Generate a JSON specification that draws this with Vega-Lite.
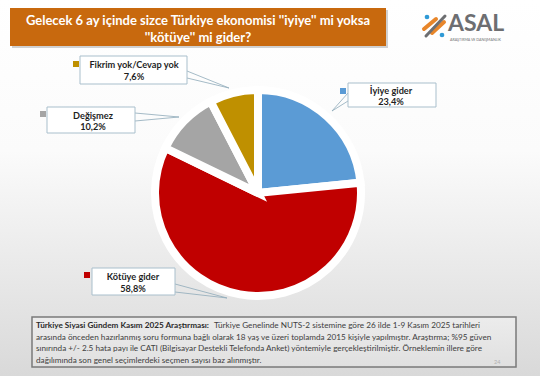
{
  "$schema": "https://vega.github.io/schema/vega-lite/v6.json",
  "width": 540,
  "height": 376,
  "autosize": "none",
  "padding": 0,
  "background": "#ffffff",
  "config": {
    "view": {"stroke": null},
    "axis": {"disable": true},
    "font": "Lato",
    "locale": {"number": {"decimal": ",", "thousands": ".", "grouping": [3], "currency": ["", " TL"]}}
  },
  "datasets": {
    "pie": [
      {"cat": "İyiye gider", "share": 0.234, "rank": 1},
      {"cat": "Kötüye gider", "share": 0.588, "rank": 2},
      {"cat": "Değişmez", "share": 0.102, "rank": 3},
      {"cat": "Fikrim yok/Cevap yok", "share": 0.076, "rank": 4}
    ]
  },
  "layer": [
    {
      "data": {"values": [{}]},
      "mark": {"type": "rect", "fill": {"gradient": "linear", "x1": 0, "y1": 0, "x2": 0, "y2": 1, "stops": [{"offset": 0, "color": "#ffffff"}, {"offset": 0.4, "color": "#fbfbfb"}, {"offset": 1, "color": "#d9d9d9"}]}},
      "encoding": {
        "x": {"datum": 0, "type": "quantitative", "scale": {"domain": [0, 540], "range": [0, 540], "nice": false, "zero": false}},
        "x2": {"datum": 540},
        "y": {"datum": 0, "type": "quantitative", "scale": {"domain": [0, 376], "range": [0, 376], "nice": false, "zero": false}},
        "y2": {"datum": 376}
      }
    },
    {
      "data": {"values": [{}]},
      "mark": {"type": "rect", "fill": "#9a9a9a", "opacity": 0.45},
      "encoding": {"x": {"datum": 12, "type": "quantitative"}, "x2": {"datum": 388}, "y": {"datum": 10, "type": "quantitative"}, "y2": {"datum": 48}}
    },
    {
      "data": {"values": [{}]},
      "mark": {"type": "rect", "fill": "#c8690e"},
      "encoding": {"x": {"datum": 10, "type": "quantitative"}, "x2": {"datum": 386}, "y": {"datum": 8, "type": "quantitative"}, "y2": {"datum": 46}}
    },
    {
      "data": {"values": [{}]},
      "mark": {"type": "text", "align": "center", "baseline": "middle", "lineHeight": 17, "fontSize": 13, "fontWeight": "bold", "color": "#ffffff"},
      "encoding": {
        "x": {"datum": 198, "type": "quantitative"},
        "y": {"datum": 20.5, "type": "quantitative"},
        "text": {"value": ["Gelecek 6 ay içinde sizce Türkiye ekonomisi ''iyiye'' mi yoksa", "''kötüye'' mi gider?"]}
      }
    },
    {
      "data": {"values": [{}]},
      "mark": {"type": "rule", "stroke": "#e8862a", "strokeWidth": 4, "strokeCap": "round"},
      "encoding": {"x": {"datum": 424, "type": "quantitative"}, "y": {"datum": 29, "type": "quantitative"}, "x2": {"datum": 436}, "y2": {"datum": 19}}
    },
    {
      "data": {"values": [{}]},
      "mark": {"type": "rule", "stroke": "#e8862a", "strokeWidth": 4, "strokeCap": "round"},
      "encoding": {"x": {"datum": 432, "type": "quantitative"}, "y": {"datum": 33, "type": "quantitative"}, "x2": {"datum": 444}, "y2": {"datum": 22}}
    },
    {
      "data": {"values": [{}]},
      "mark": {"type": "rule", "stroke": "#6d6e71", "strokeWidth": 3, "strokeCap": "round"},
      "encoding": {"x": {"datum": 426, "type": "quantitative"}, "y": {"datum": 36, "type": "quantitative"}, "x2": {"datum": 445}, "y2": {"datum": 16}}
    },
    {
      "data": {"values": [{}]},
      "mark": {"type": "point", "shape": "circle", "filled": true, "size": 22, "color": "#2f9ad6", "opacity": 1},
      "encoding": {"x": {"datum": 427, "type": "quantitative"}, "y": {"datum": 17, "type": "quantitative"}}
    },
    {
      "data": {"values": [{}]},
      "mark": {"type": "point", "shape": "circle", "filled": true, "size": 22, "color": "#2f9ad6", "opacity": 1},
      "encoding": {"x": {"datum": 442, "type": "quantitative"}, "y": {"datum": 35, "type": "quantitative"}}
    },
    {
      "data": {"values": [{}]},
      "mark": {"type": "text", "align": "left", "baseline": "middle", "fontSize": 23, "fontWeight": "bold", "color": "#6d6e71"},
      "encoding": {"x": {"datum": 448, "type": "quantitative"}, "y": {"datum": 24, "type": "quantitative"}, "text": {"value": "ASAL"}}
    },
    {
      "data": {"values": [{}]},
      "mark": {"type": "text", "align": "left", "baseline": "middle", "fontSize": 3.6, "color": "#6d6e71"},
      "encoding": {"x": {"datum": 450, "type": "quantitative"}, "y": {"datum": 39.5, "type": "quantitative"}, "text": {"value": "ARAŞTIRMA VE DANIŞMANLIK"}}
    },
    {
      "data": {"name": "pie"},
      "mark": {"type": "arc", "outerRadius": 103, "stroke": "#ffffff", "strokeWidth": 8},
      "encoding": {
        "x": {"datum": 258, "type": "quantitative"},
        "y": {"datum": 193, "type": "quantitative"},
        "theta": {"field": "share", "type": "quantitative", "stack": true},
        "order": {"field": "rank", "type": "quantitative"},
        "color": {"field": "cat", "type": "nominal", "legend": null, "scale": {"domain": ["İyiye gider", "Kötüye gider", "Değişmez", "Fikrim yok/Cevap yok"], "range": ["#5b9bd5", "#c00000", "#a5a5a5", "#bf9000"]}}
      }
    },
    {
      "data": {"name": "pie"},
      "transform": [{"filter": "datum.cat === 'Fikrim yok/Cevap yok'"}],
      "layer": [
        {"mark": {"type": "rule", "stroke": "#8eaab9", "strokeWidth": 0.8}, "encoding": {"x": {"datum": 187, "type": "quantitative"}, "y": {"datum": 71, "type": "quantitative"}, "x2": {"datum": 229}, "y2": {"datum": 88}}},
        {"mark": {"type": "rule", "stroke": "#8eaab9", "strokeWidth": 0.8}, "encoding": {"x": {"datum": 187, "type": "quantitative"}, "y": {"datum": 78, "type": "quantitative"}, "x2": {"datum": 229}, "y2": {"datum": 88}}},
        {"mark": {"type": "rect", "fill": "#ffffff", "stroke": "#a9bfcc", "strokeWidth": 1}, "encoding": {"x": {"datum": 80, "type": "quantitative"}, "x2": {"datum": 187}, "y": {"datum": 56, "type": "quantitative"}, "y2": {"datum": 84}}},
        {"mark": {"type": "square", "size": 36, "filled": true, "opacity": 1}, "encoding": {"x": {"datum": 76, "type": "quantitative"}, "y": {"datum": 64, "type": "quantitative"}, "color": {"field": "cat", "type": "nominal", "legend": null}}},
        {"mark": {"type": "text", "align": "center", "baseline": "middle", "fontSize": 9.2, "fontWeight": "bold", "color": "#1f1f1f"}, "encoding": {"x": {"datum": 134, "type": "quantitative"}, "y": {"datum": 65, "type": "quantitative"}, "text": {"field": "cat"}}},
        {"mark": {"type": "text", "align": "center", "baseline": "middle", "fontSize": 9.2, "fontWeight": "bold", "color": "#1f1f1f"}, "encoding": {"x": {"datum": 134, "type": "quantitative"}, "y": {"datum": 77, "type": "quantitative"}, "text": {"field": "share", "type": "quantitative", "format": ".1%"}}}
      ]
    },
    {
      "data": {"name": "pie"},
      "transform": [{"filter": "datum.cat === 'Değişmez'"}],
      "layer": [
        {"mark": {"type": "rule", "stroke": "#8eaab9", "strokeWidth": 0.8}, "encoding": {"x": {"datum": 135, "type": "quantitative"}, "y": {"datum": 113, "type": "quantitative"}, "x2": {"datum": 179}, "y2": {"datum": 117}}},
        {"mark": {"type": "rule", "stroke": "#8eaab9", "strokeWidth": 0.8}, "encoding": {"x": {"datum": 135, "type": "quantitative"}, "y": {"datum": 121, "type": "quantitative"}, "x2": {"datum": 179}, "y2": {"datum": 117}}},
        {"mark": {"type": "rect", "fill": "#ffffff", "stroke": "#a9bfcc", "strokeWidth": 1}, "encoding": {"x": {"datum": 47, "type": "quantitative"}, "x2": {"datum": 135}, "y": {"datum": 107, "type": "quantitative"}, "y2": {"datum": 133}}},
        {"mark": {"type": "square", "size": 36, "filled": true, "opacity": 1}, "encoding": {"x": {"datum": 43, "type": "quantitative"}, "y": {"datum": 114, "type": "quantitative"}, "color": {"field": "cat", "type": "nominal", "legend": null}}},
        {"mark": {"type": "text", "align": "center", "baseline": "middle", "fontSize": 9.2, "fontWeight": "bold", "color": "#1f1f1f"}, "encoding": {"x": {"datum": 93, "type": "quantitative"}, "y": {"datum": 116, "type": "quantitative"}, "text": {"field": "cat"}}},
        {"mark": {"type": "text", "align": "center", "baseline": "middle", "fontSize": 9.2, "fontWeight": "bold", "color": "#1f1f1f"}, "encoding": {"x": {"datum": 93, "type": "quantitative"}, "y": {"datum": 127, "type": "quantitative"}, "text": {"field": "share", "type": "quantitative", "format": ".1%"}}}
      ]
    },
    {
      "data": {"name": "pie"},
      "transform": [{"filter": "datum.cat === 'İyiye gider'"}],
      "layer": [
        {"mark": {"type": "rule", "stroke": "#8eaab9", "strokeWidth": 0.8}, "encoding": {"x": {"datum": 348, "type": "quantitative"}, "y": {"datum": 93, "type": "quantitative"}, "x2": {"datum": 332}, "y2": {"datum": 111}}},
        {"mark": {"type": "rule", "stroke": "#8eaab9", "strokeWidth": 0.8}, "encoding": {"x": {"datum": 348, "type": "quantitative"}, "y": {"datum": 101, "type": "quantitative"}, "x2": {"datum": 332}, "y2": {"datum": 111}}},
        {"mark": {"type": "rect", "fill": "#ffffff", "stroke": "#a9bfcc", "strokeWidth": 1}, "encoding": {"x": {"datum": 348, "type": "quantitative"}, "x2": {"datum": 436}, "y": {"datum": 83, "type": "quantitative"}, "y2": {"datum": 107}}},
        {"mark": {"type": "square", "size": 36, "filled": true, "opacity": 1}, "encoding": {"x": {"datum": 343, "type": "quantitative"}, "y": {"datum": 91, "type": "quantitative"}, "color": {"field": "cat", "type": "nominal", "legend": null}}},
        {"mark": {"type": "text", "align": "center", "baseline": "middle", "fontSize": 9.2, "fontWeight": "bold", "color": "#1f1f1f"}, "encoding": {"x": {"datum": 391, "type": "quantitative"}, "y": {"datum": 91, "type": "quantitative"}, "text": {"field": "cat"}}},
        {"mark": {"type": "text", "align": "center", "baseline": "middle", "fontSize": 9.2, "fontWeight": "bold", "color": "#1f1f1f"}, "encoding": {"x": {"datum": 391, "type": "quantitative"}, "y": {"datum": 102, "type": "quantitative"}, "text": {"field": "share", "type": "quantitative", "format": ".1%"}}}
      ]
    },
    {
      "data": {"name": "pie"},
      "transform": [{"filter": "datum.cat === 'Kötüye gider'"}],
      "layer": [
        {"mark": {"type": "rule", "stroke": "#8eaab9", "strokeWidth": 0.8}, "encoding": {"x": {"datum": 175, "type": "quantitative"}, "y": {"datum": 284, "type": "quantitative"}, "x2": {"datum": 227}, "y2": {"datum": 298}}},
        {"mark": {"type": "rule", "stroke": "#8eaab9", "strokeWidth": 0.8}, "encoding": {"x": {"datum": 175, "type": "quantitative"}, "y": {"datum": 292, "type": "quantitative"}, "x2": {"datum": 227}, "y2": {"datum": 298}}},
        {"mark": {"type": "rect", "fill": "#ffffff", "stroke": "#a9bfcc", "strokeWidth": 1}, "encoding": {"x": {"datum": 92, "type": "quantitative"}, "x2": {"datum": 175}, "y": {"datum": 268, "type": "quantitative"}, "y2": {"datum": 295}}},
        {"mark": {"type": "square", "size": 36, "filled": true, "opacity": 1}, "encoding": {"x": {"datum": 87, "type": "quantitative"}, "y": {"datum": 275, "type": "quantitative"}, "color": {"field": "cat", "type": "nominal", "legend": null}}},
        {"mark": {"type": "text", "align": "center", "baseline": "middle", "fontSize": 9.2, "fontWeight": "bold", "color": "#1f1f1f"}, "encoding": {"x": {"datum": 133, "type": "quantitative"}, "y": {"datum": 277, "type": "quantitative"}, "text": {"field": "cat"}}},
        {"mark": {"type": "text", "align": "center", "baseline": "middle", "fontSize": 9.2, "fontWeight": "bold", "color": "#1f1f1f"}, "encoding": {"x": {"datum": 133, "type": "quantitative"}, "y": {"datum": 289, "type": "quantitative"}, "text": {"field": "share", "type": "quantitative", "format": ".1%"}}}
      ]
    },
    {
      "data": {"values": [{}]},
      "mark": {"type": "rect", "fill": {"gradient": "linear", "x1": 0, "y1": 0, "x2": 0, "y2": 1, "stops": [{"offset": 0, "color": "#ececec"}, {"offset": 1, "color": "#e0e0e0"}]}, "stroke": "#7a7a7a", "strokeWidth": 1.5},
      "encoding": {"x": {"datum": 32, "type": "quantitative"}, "x2": {"datum": 516}, "y": {"datum": 317, "type": "quantitative"}, "y2": {"datum": 367}}
    },
    {
      "data": {"values": [{}]},
      "mark": {"type": "text", "align": "left", "baseline": "middle", "fontSize": 8.2, "fontWeight": "bold", "color": "#2a2a2a"},
      "encoding": {"x": {"datum": 36, "type": "quantitative"}, "y": {"datum": 326, "type": "quantitative"}, "text": {"value": "Türkiye Siyasi Gündem Kasım 2025 Araştırması:"}}
    },
    {
      "data": {"values": [{}]},
      "mark": {"type": "text", "align": "left", "baseline": "middle", "fontSize": 8.2, "color": "#404040"},
      "encoding": {"x": {"datum": 214, "type": "quantitative"}, "y": {"datum": 326, "type": "quantitative"}, "text": {"value": "Türkiye Genelinde  NUTS-2 sistemine göre 26 ilde 1-9 Kasım 2025 tarihleri"}}
    },
    {
      "data": {"values": [{}]},
      "mark": {"type": "text", "align": "left", "baseline": "middle", "fontSize": 8.2, "lineHeight": 11.7, "color": "#404040"},
      "encoding": {"x": {"datum": 36, "type": "quantitative"}, "y": {"datum": 337.7, "type": "quantitative"}, "text": {"value": ["arasında önceden  hazırlanmış soru formuna bağlı olarak 18 yaş ve üzeri toplamda 2015 kişiyle yapılmıştır. Araştırma; %95 güven", "sınırında +/- 2.5 hata payı ile CATI (Bilgisayar Destekli Telefonda  Anket) yöntemiyle gerçekleştirilmiştir. Örneklemin  illere göre", "dağılımında son genel seçimlerdeki seçmen sayısı baz alınmıştır."]}}
    },
    {
      "data": {"values": [{}]},
      "mark": {"type": "text", "align": "left", "baseline": "middle", "fontSize": 5.5, "color": "#b0b0b0"},
      "encoding": {"x": {"datum": 494, "type": "quantitative"}, "y": {"datum": 362, "type": "quantitative"}, "text": {"value": "24"}}
    }
  ]
}
